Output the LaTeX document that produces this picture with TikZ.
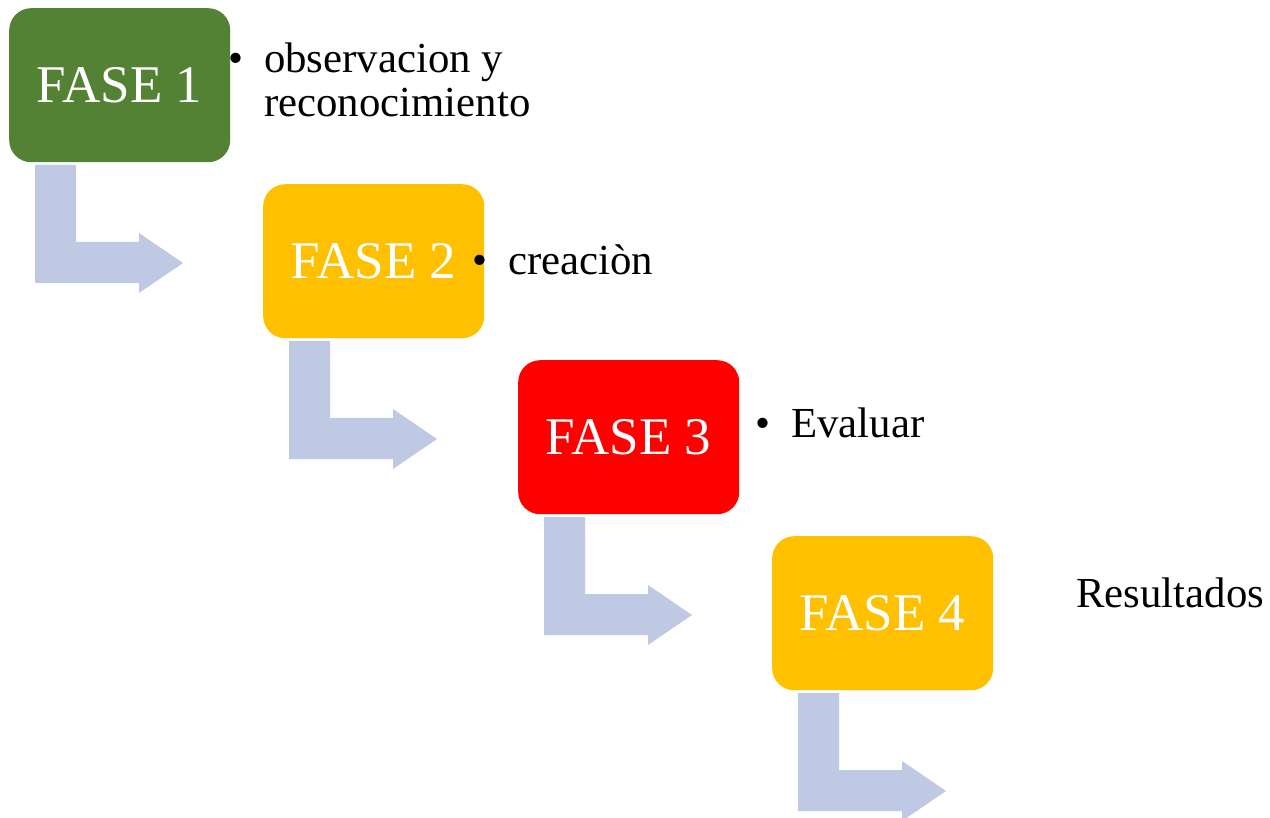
\documentclass[tikz,border=0pt]{standalone}
\usepackage{fontspec}
\setmainfont{Liberation Serif}
\definecolor{fgreen}{RGB}{84,130,53}
\definecolor{fyellow}{RGB}{255,192,0}
\definecolor{fred}{RGB}{255,0,0}
\definecolor{farrow}{RGB}{191,201,228}
\tikzset{
 phase/.style={rectangle, rounded corners=22pt, minimum width=221pt, minimum height=154pt,
   inner sep=0pt, text=white, font=\fontsize{53}{60}\selectfont, anchor=north west},
 desc/.style={anchor=base west, inner sep=0pt, font=\fontsize{42.8}{43}\selectfont},
 bent/.style={fill=farrow, draw=none}
}
\newcommand\bul{\llap{\makebox[56pt]{•}}}
\newcommand\bentarrow[1]{\fill[bent,shift={(#1.north west)}] (26,157) -- (67,157) -- (67,234) -- (130,234) -- (130,225) -- (174,255) -- (130,285) -- (130,275) -- (26,275) -- cycle;}
\begin{document}
\begin{tikzpicture}[x=1pt,y=-1pt]
\useasboundingbox (0,0) rectangle (1270,818);
\clip (0,0) rectangle (1270,818);
\node[phase, fill=fgreen] (f1) at (9,8) {FASE 1};
\node[phase, fill=fyellow] (f2) at (263,184) {FASE 2};
\node[phase, fill=fred] (f3) at (518,360) {FASE 3};
\node[phase, fill=fyellow] (f4) at (772,536) {FASE 4};
\bentarrow{f1}
\bentarrow{f2}
\bentarrow{f3}
\bentarrow{f4}
\node[desc] (t1a) at (264,73) {\bul observacion y};
\node[desc] (t1b) at (264,117) {reconocimiento};
\node[desc] (t2) at (508,275) {\bul creaciòn};
\node[desc] (t3) at (791,438) {\bul Evaluar};
\node[desc] (t4) at (1076,607) {Resultados};
\end{tikzpicture}
\end{document}
